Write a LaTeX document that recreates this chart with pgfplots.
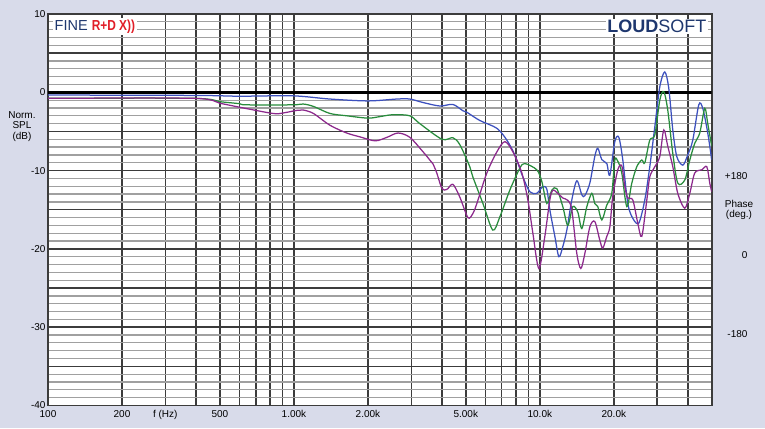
\documentclass[border=0pt]{standalone}
\usepackage{fontspec}
\setmainfont{Liberation Sans}
\usepackage{graphicx}
\usepackage{pgfplots}
\pgfplotsset{compat=1.18}
\definecolor{bg}{RGB}{216,219,234}
\definecolor{cblue}{RGB}{60,80,190}
\definecolor{cgreen}{RGB}{40,140,60}
\definecolor{cpurple}{RGB}{140,40,140}
\definecolor{navy}{RGB}{30,55,110}
\definecolor{lred}{RGB}{225,30,40}
\definecolor{gridd}{RGB}{60,60,60}
\definecolor{gridl}{RGB}{160,160,160}
\begin{document}
\begin{tikzpicture}[x=1pt,y=1pt]
\fill[bg] (-48,-22.5) rectangle (717,405.5);
\begin{axis}[
 at={(0,0)}, anchor=south west,
 scale only axis, width=663.7pt, height=391.5pt,
 xmode=log, xmin=100, xmax=50000, ymin=-40, ymax=10,
 axis background/.style={fill=white},
 xtick={100,200,300,400,500,600,700,800,900,1000,2000,3000,4000,5000,6000,7000,8000,9000,10000,20000,30000,40000},
 xticklabels={100,200,f (Hz),,500,,,,,1.00k,2.00k,,,5.00k,,,,,10.0k,20.0k,,},
 minor xtick={},
 ytick={-40,-30,-20,-10,0,10}, yticklabels={-40,-30,-20,-10,0,10},
 minor ytick={-39,...,9},
 extra y ticks={-35,-25,-15,-5,5}, extra y tick labels={},
 extra tick style={grid=major, major grid style={gridd, line width=1.5pt}, major tick length=0pt},
 grid=both,
 major grid style={gridd, line width=1.5pt},
 minor grid style={gridl, line width=1.25pt},
 major tick length=0pt, minor tick length=0pt,
 axis line style={gridd, line width=1.6pt},
 ticklabel style={font=\fontsize{10}{11}\selectfont},
 xticklabel style={yshift=-1pt},
 yticklabel style={xshift=1pt},
]
\draw[black, line width=2.8pt] (axis cs:100,0) -- (axis cs:50000,0);
\addplot[cblue, line width=1.25pt, smooth] coordinates {
(100,-0.35) (400,-0.4) (600,-0.5) (990,-0.45) (1400,-0.86) (2000,-1.1) (2620,-0.86) (2960,-0.86)
(3345,-1.3) (3920,-1.75) (4430,-1.55) (4860,-2.35) (5050,-2.55) (5700,-3.6) (6690,-4.6) (7340,-6.1)
(7910,-8.0) (8530,-10.8) (9110,-12.7) (9720,-12.9) (10280,-12.05) (10680,-12.4) (10980,-15)
(11510,-18.4) (11950,-21.0) (12400,-19.7) (12875,-17.6) (13490,-13.75) (14140,-11.3) (14820,-13.1)
(15240,-13.2) (15970,-11.6) (16730,-8.2) (17210,-7.15) (17870,-8.6) (18720,-9.1) (19260,-10.6)
(20180,-6.3) (20950,-5.75) (21750,-8.65) (22790,-14.2) (23880,-16.1) (25260,-16.7) (26720,-13.75)
(28000,-9.5) (29350,-4.4) (30750,0.7) (32220,2.6) (33450,0.5) (34730,-4.8) (36050,-8.2) (38140,-9.3)
(39960,-8.0) (41880,-6.1) (44290,-1.6) (45980,-2.05) (48180,-5.2) (50000,-8.65)
};
\addplot[cgreen, line width=1.25pt, smooth] coordinates {
(100,-0.77) (390,-0.77) (500,-1.2) (600,-1.45) (640,-1.6) (990,-1.6) (1090,-1.5) (1200,-1.8)
(1400,-2.7) (1640,-3.0) (2000,-3.3) (2240,-3.1) (2530,-2.86) (2960,-3.0) (3250,-4.0) (4000,-6.0)
(4430,-5.8) (4730,-6.7) (5190,-9.5) (5340,-10.8) (5870,-14.2) (6440,-17.6) (6880,-15.9) (7550,-12.5)
(8290,-9.7) (8690,-9.1) (9720,-9.9) (10190,-11.4) (10680,-14.2) (11190,-12.5) (11720,-12.3)
(12400,-14.6) (12995,-17.0) (13620,-14.6) (14270,-15.3) (14820,-17.4) (15530,-14.6) (16270,-12.9)
(16730,-14.2) (17210,-14.6) (17870,-16.3) (18720,-14.4) (19620,-12.9) (20180,-8.65) (20750,-8.8)
(21540,-10.3) (22580,-14.6) (23660,-11.6) (24790,-9.5) (25980,-8.65) (26720,-9.0) (28000,-6.1)
(29350,-5.45) (30750,-1.0) (31920,0.08) (33140,-2.3) (34730,-7.8) (36390,-11.6) (38860,-11.2)
(40720,-8.65) (42670,-6.5) (44710,-5.2) (46850,-2.05) (48180,-4.0) (50000,-6.9)
};
\addplot[cpurple, line width=1.25pt, smooth] coordinates {
(100,-0.77) (390,-0.77) (500,-1.4) (600,-1.9) (820,-2.7) (900,-2.65) (1030,-2.3) (1090,-2.26)
(1200,-2.7) (1400,-4.2) (1640,-5.2) (1860,-5.7) (2140,-6.2) (2390,-5.75) (2650,-5.2) (2960,-5.75)
(3350,-7.6) (3570,-8.65) (3670,-9.1) (3810,-10.3) (4000,-12.3) (4190,-12.4) (4430,-11.75) (4730,-13.4)
(5100,-16.0) (5340,-15.5) (5545,-14.2) (6090,-10.3) (6690,-7.6) (7210,-6.3) (7770,-7.6) (8450,-10.3)
(8940,-13.75) (9370,-18.0) (9910,-22.5) (10480,-18.4) (10980,-13.75) (11290,-12.5) (11830,-12.9)
(12400,-13.5) (12995,-13.8) (13490,-15.0) (14140,-20.6) (14680,-22.5) (15240,-20.6) (15970,-17.2)
(16730,-16.5) (17540,-18.9) (18030,-19.9) (18720,-18.4) (19260,-17.2) (19800,-13.3) (20750,-9.9)
(21540,-9.4) (22160,-12.05) (22790,-13.5) (23880,-13.75) (25020,-16.7) (25980,-18.4) (27230,-13.75)
(28000,-10.8) (29350,-9.5) (30750,-8.2) (31920,-4.8) (33140,-6.9) (34730,-9.5) (36390,-12.9)
(38860,-14.8) (40720,-12.9) (42670,-10.3) (45550,-9.9) (47740,-9.5) (49100,-11.6) (50000,-12.7)
};
\end{axis}
\begin{scope}[font=\fontsize{10}{10.5}\selectfont]
\node[align=center] at (-26,279) {Norm.\\SPL\\(dB)};
\node[anchor=east] at (703,229.5) {+180};
\node[anchor=east] at (703,150.2) {0};
\node[anchor=east] at (703,71.5) {-180};
\node[align=center] at (691,195.5) {Phase\\(deg.)};
\end{scope}
\node[anchor=west, fill=white, inner sep=1.5pt, font=\fontsize{14.5}{16}\selectfont] at (5,379)
 {\textcolor{navy}{FINE} \textcolor{lred}{\scalebox{0.82}[1]{\bfseries R+D X))}}};
\node[anchor=east, fill=white, inner sep=1.5pt, text=navy, font=\fontsize{18}{20}\selectfont] at (660,379)
 {\textbf{LOUD}SOFT};
\pgfresetboundingbox
\useasboundingbox (-48,-22.5) rectangle (717,405.5);
\end{tikzpicture}
\end{document}
